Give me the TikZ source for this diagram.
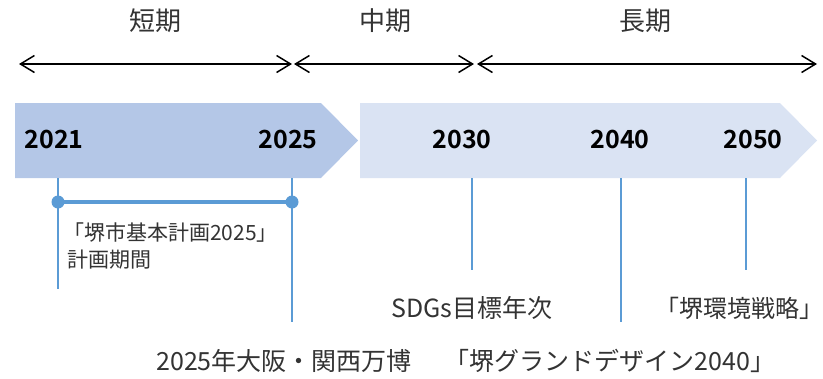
\documentclass[tikz,border=0pt]{standalone}
\usepackage{fontspec}
\setmainfont{Noto Sans CJK JP}[BoldFont={Noto Sans CJK JP Bold}]
\usetikzlibrary{arrows.meta}
\definecolor{banddark}{HTML}{B4C7E7}
\definecolor{bandlight}{HTML}{DAE3F3}
\definecolor{tickblue}{HTML}{5B9BD5}
\definecolor{txt}{HTML}{333333}
\tikzset{
  period/.style={draw=black, line width=1.5pt, {Straight Barb[length=14pt,width=17pt]}-{Straight Barb[length=14pt,width=17pt]}},
  phaselabel/.style={anchor=base, inner sep=0pt, text=txt, font=\fontsize{26}{30}\selectfont},
  yearlabel/.style={anchor=base, inner sep=0pt, text=black, font=\fontsize{25}{29}\selectfont\bfseries},
  eventlabel/.style={anchor=base, inner sep=0pt, text=txt, font=\fontsize{25}{29}\selectfont},
  smalllabel/.style={anchor=base west, inner sep=0pt, text=txt, font=\fontsize{21}{25}\selectfont},
  tickline/.style={draw=tickblue, line width=1.5pt},
  planbar/.style={draw=tickblue, line width=4.5pt},
  plandot/.style={fill=tickblue},
}
\begin{document}
\begin{tikzpicture}[x=1pt,y=-1pt]
\useasboundingbox (0,0) rectangle (823,378);
% phase labels
\node[phaselabel] (short) at (155,30) {短期};
\node[phaselabel] (mid) at (385,30) {中期};
\node[phaselabel] (long) at (645,30) {長期};
% period arrows
\coordinate (a0) at (19,64);
\coordinate (a1) at (292,64);
\coordinate (a2) at (294,64);
\coordinate (a3) at (474,64);
\coordinate (a4) at (477,64);
\coordinate (a5) at (817,64);
\draw[period] (a0) -- (a1);
\draw[period] (a2) -- (a3);
\draw[period] (a4) -- (a5);
% bands
\fill[banddark] (15,103) -- (321,103) -- (358,140.5) -- (321,178) -- (15,178) -- cycle;
\fill[bandlight] (360,103) -- (780,103) -- (817,140.5) -- (780,178) -- (360,178) -- cycle;
% years
\node[yearlabel] (y2021) at (54,148) {2021};
\node[yearlabel] (y2025) at (288,148) {2025};
\node[yearlabel] (y2030) at (462,148) {2030};
\node[yearlabel] (y2040) at (620,148) {2040};
\node[yearlabel] (y2050) at (753,148) {2050};
% tick lines
\coordinate (t1) at (58,178);   \coordinate (b1) at (58,289);
\coordinate (t2) at (292,178);  \coordinate (b2) at (292,322);
\coordinate (t3) at (472,178);  \coordinate (b3) at (472,270);
\coordinate (t4) at (621,178);  \coordinate (b4) at (621,322);
\coordinate (t5) at (746,178);  \coordinate (b5) at (746,270);
\draw[tickline] (t1) -- (b1);
\draw[tickline] (t2) -- (b2);
\draw[tickline] (t3) -- (b3);
\draw[tickline] (t4) -- (b4);
\draw[tickline] (t5) -- (b5);
% plan period bar
\coordinate (d1) at (58,202);
\coordinate (d2) at (292,202);
\draw[planbar] (d1) -- (d2);
\fill[plandot] (d1) circle (6.5pt);
\fill[plandot] (d2) circle (6.5pt);
% labels
\node[smalllabel] (plan1) at (63,240) {「堺市基本計画2025」};
\node[smalllabel] (plan2) at (67,267) {計画期間};
\node[eventlabel] (sdgs) at (472,317) {SDGs目標年次};
\node[eventlabel, font=\fontsize{24}{28}\selectfont] (env) at (739,317) {「堺環境戦略」};
\node[eventlabel] (expo) at (284,370) {2025年大阪・関西万博};
\node[eventlabel] (grand) at (610,370) {「堺グランドデザイン2040」};
\end{tikzpicture}
\end{document}
